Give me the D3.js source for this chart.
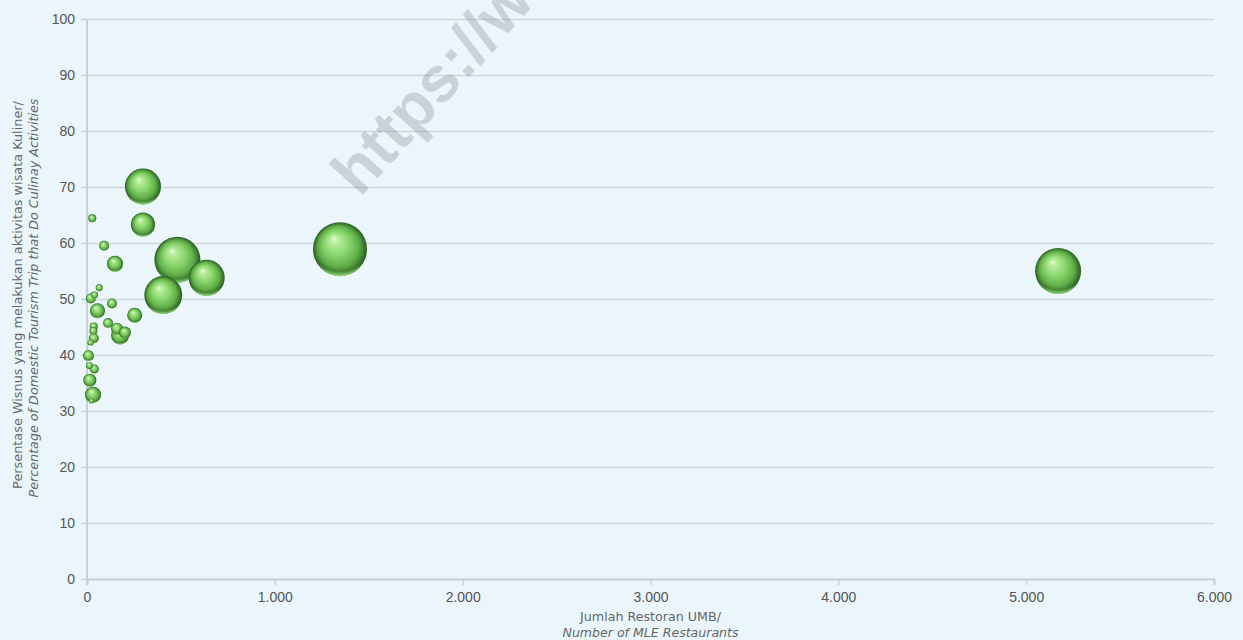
<!DOCTYPE html>
<html>
<head>
<meta charset="utf-8">
<script src="https://cdn.jsdelivr.net/npm/d3@7"></script>
<style>
  html, body { margin: 0; padding: 0; background: #eaf6fc; }
  svg { display: block; }
</style>
</head>
<body>
<svg id="chart" width="1243" height="640"></svg>
<script>
// Number of MLE (medium & large) restaurants per province
const restaurants = [1347, 5170, 298, 298, 481, 637, 406, 28, 91, 149, 65, 40, 20, 133, 56, 254,
  112, 36, 34, 160, 202, 176, 36, 19, 8, 13, 39, 15, 32, 24];
// Share of domestic tourism trips that include culinary activities (%)
const culinaryShare = [58.9, 55.0, 70.1, 63.3, 57.0, 53.8, 50.7, 64.4, 59.5, 56.3, 52.0, 50.7, 50.1, 49.2, 47.9, 47.1,
  45.7, 45.1, 44.3, 44.7, 44.0, 43.5, 43.0, 42.2, 39.9, 38.1, 37.5, 35.5, 32.9, 31.8];
// Domestic tourism trips (millions) – bubble size
const trips = [150, 109, 67, 30, 109, 67, 74, 3.3, 5.1, 13.2, 2.5, 2.5, 5.1, 5.1, 11.6, 11.6,
  5.1, 3.3, 3.3, 7.4, 7.4, 16.7, 5.1, 1.9, 6.2, 2.5, 4.2, 8.7, 13.2, 1.3];

const xTicks = [0, 1000, 2000, 3000, 4000, 5000, 6000];
const yTicks = [0, 10, 20, 30, 40, 50, 60, 70, 80, 90, 100];
const yMinor = d3.range(0, 101, 2);

const xTitle = ["Jumlah Restoran UMB/", "Number of MLE Restaurants"];
const yTitle = ["Persentase Wisnus yang melakukan aktivitas wisata Kuliner/",
  "Percentage of Domestic Tourism Trip that Do Culinay Activities"];

const svg = d3.select("#chart");
const W = 1243, H = 640;
const m = { left: 87, right: 29, top: 19, bottom: 61 };

const x = d3.scaleLinear().domain([0, 6000]).range([m.left, W - m.right]);
const y = d3.scaleLinear().domain([0, 100]).range([H - m.bottom, m.top]);
const r = d3.scaleSqrt().domain([0, d3.max(trips)]).range([0, 27]);

const idFmt = d3.formatLocale({ decimal: ",", thousands: ".", grouping: [3], currency: ["Rp", ""] }).format(",d");

const tickFont = "'Liberation Sans', Arial, sans-serif";
const titleFont = "'DejaVu Sans', sans-serif";

// background
svg.append("rect").attr("width", W).attr("height", H).attr("fill", "#eaf6fc");

// gradients for the 3-D bubble look
const defs = svg.append("defs");
const body = defs.append("radialGradient").attr("id", "ball")
  .attr("cx", "50%").attr("cy", "50%").attr("r", "50%").attr("fx", "38%").attr("fy", "30%");
[["0%", "#e6fbd6"], ["16%", "#b6ec99"], ["46%", "#88d66c"], ["76%", "#60ad48"], ["91%", "#3c7a2f"], ["100%", "#2a5c22"]]
  .forEach(([o, c]) => body.append("stop").attr("offset", o).attr("stop-color", c));
const rim = defs.append("radialGradient").attr("id", "rim")
  .attr("cx", "50%").attr("cy", "28%").attr("r", "72%");
[["0%", "rgba(150,235,120,0)"], ["87%", "rgba(150,235,120,0)"], ["100%", "rgba(165,240,130,0.95)"]]
  .forEach(([o, c]) => rim.append("stop").attr("offset", o).attr("stop-color", c));

// minor gridlines
svg.append("g").selectAll("line").data(yMinor.filter(v => v % 10 !== 0)).join("line")
  .attr("x1", m.left).attr("x2", W - m.right)
  .attr("y1", d => y(d)).attr("y2", d => y(d))
  .attr("stroke", "#f3f7f9").attr("stroke-width", 1.2);

// y axis with major gridlines
const yAxis = svg.append("g").attr("transform", `translate(${m.left},0)`)
  .call(d3.axisLeft(y).tickValues(yTicks).tickSize(6).tickPadding(6).tickFormat(d3.format("d")));
yAxis.select(".domain").remove();
yAxis.selectAll(".tick line").attr("stroke", "#c9cfd2").attr("stroke-width", 1.5);
yAxis.selectAll(".tick").append("line")
  .attr("x1", 0).attr("x2", W - m.right - m.left)
  .attr("stroke", "#cdd7dc").attr("stroke-width", 1.3);
yAxis.selectAll("text").attr("fill", "#555").style("font-family", tickFont).style("font-size", "14px");

// x axis
const xAxis = svg.append("g").attr("transform", `translate(0,${y(0)})`)
  .call(d3.axisBottom(x).tickValues(xTicks).tickSize(6).tickPadding(7).tickFormat(idFmt));
xAxis.select(".domain").attr("stroke", "#c9cfd2").attr("stroke-width", 2);
xAxis.selectAll(".tick line").attr("stroke", "#c9cfd2").attr("stroke-width", 1.5);
xAxis.selectAll("text").attr("fill", "#555").style("font-family", tickFont).style("font-size", "14px");

// left axis line
svg.append("line").attr("x1", m.left).attr("x2", m.left)
  .attr("y1", y(100)).attr("y2", y(0) + 5)
  .attr("stroke", "#c9cfd2").attr("stroke-width", 2);

// watermark
svg.append("text")
  .attr("transform", "translate(360,198) rotate(-48)")
  .attr("fill", "rgba(135,145,150,0.34)")
  .style("font-family", "'Liberation Sans', Arial, sans-serif")
  .style("font-weight", "bold").style("font-size", "64px")
  .text("https://w");

// bubbles, larger ones drawn first
const pts = restaurants.map((v, i) => ({ x: v, y: culinaryShare[i], s: trips[i] }))
  .sort((a, b) => b.s - a.s);
const bub = svg.append("g").selectAll("g").data(pts).join("g")
  .attr("transform", d => `translate(${x(d.x)},${y(d.y)})`);
bub.append("circle").attr("r", d => r(d.s)).attr("fill", "url(#ball)");
bub.append("circle").attr("r", d => r(d.s)).attr("fill", "url(#rim)");

// size a title line so it spans the given width
function fitText(sel, width) {
  sel.style("font-size", "12px");
  const len = sel.node().getComputedTextLength();
  sel.style("font-size", (12 * width / len).toFixed(2) + "px");
  return sel;
}

// axis titles
const cx = (m.left + W - m.right) / 2;
fitText(svg.append("text").attr("text-anchor", "middle").attr("x", cx).attr("y", 621)
  .attr("fill", "#666").style("font-family", titleFont).text(xTitle[0]), 141);
fitText(svg.append("text").attr("text-anchor", "middle").attr("x", cx).attr("y", 637)
  .attr("fill", "#666").style("font-family", titleFont).style("font-style", "italic").text(xTitle[1]), 176);

const yc = 295;
fitText(svg.append("text").attr("text-anchor", "middle")
  .attr("transform", `translate(22,${yc}) rotate(-90)`)
  .attr("fill", "#666").style("font-family", titleFont)
  .text(yTitle[0]), 388);
fitText(svg.append("text").attr("text-anchor", "middle")
  .attr("transform", `translate(38,${yc + 3}) rotate(-90)`)
  .attr("fill", "#666").style("font-family", titleFont).style("font-style", "italic")
  .text(yTitle[1]), 399);
</script>
</body>
</html>
